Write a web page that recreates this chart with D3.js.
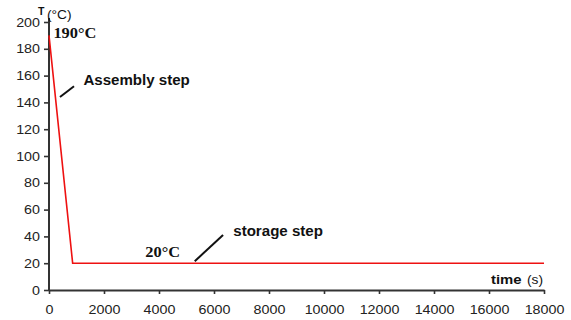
<!DOCTYPE html>
<html>
<head>
<meta charset="utf-8">
<script src="https://cdn.jsdelivr.net/npm/d3@7"></script>
<style>
  body { margin: 0; background: #fff; }
  svg { display: block; }
</style>
</head>
<body>
<svg id="chart" width="571" height="320"></svg>
<script>
"use strict";

//Temperature profile (time in s, temperature in °C)
var times = [0, 860, 18000];
var temps = [190, 20, 20];

//Tick values for both axes
var xTicks = [0, 2000, 4000, 6000, 8000, 10000, 12000, 14000, 16000, 18000];
var yTicks = [0, 20, 40, 60, 80, 100, 120, 140, 160, 180, 200];

//Labels placed on the curve, in data units
var labelText = ["190°C", "20°C", "Assembly step", "storage step"];
var labelX = [160, 3500, 1250, 6700];
var labelY = [188, 24.5, 153, 40.3];
//Leader lines for the step labels
var leaderX1 = [400, 5300];
var leaderY1 = [144, 21.5];
var leaderX2 = [910, 6330];
var leaderY2 = [152, 41];

var svg = d3.select("#chart"),
    margin = {top: 22, right: 27, bottom: 30, left: 49},
    width = +svg.attr("width") - margin.left - margin.right,
    height = +svg.attr("height") - margin.top - margin.bottom,
    g = svg.append("g").attr("transform", "translate(" + margin.left + "," + margin.top + ")");

var x = d3.scaleLinear().domain([0, 18000]).range([0, width]);
var y = d3.scaleLinear().domain([0, 200]).range([height, 0]);

var axisColor = "#333";
var sans = "'Liberation Sans', Arial, sans-serif";
var serif = "'Liberation Serif', 'Times New Roman', serif";
//The original picture is a bit wider than tall, so text is stretched
var stretch = 1.1;

function widen(sel, k) {
  sel.each(function() {
    var w = this.getComputedTextLength();
    d3.select(this).attr("textLength", w * k).attr("lengthAdjust", "spacingAndGlyphs");
  });
}

//x axis
var gx = g.append("g")
    .attr("transform", "translate(0," + height + ")")
    .call(d3.axisBottom(x).tickValues(xTicks).tickFormat(d3.format("d"))
      .tickSize(4).tickSizeOuter(0).tickPadding(11));

//y axis
var gy = g.append("g")
    .call(d3.axisLeft(y).tickValues(yTicks).tickFormat(d3.format("d"))
      .tickSize(5).tickSizeOuter(0).tickPadding(4));

[gx, gy].forEach(function(ax) {
  ax.select(".domain").attr("stroke", axisColor).attr("stroke-width", 2);
  ax.selectAll(".tick line").attr("stroke", axisColor).attr("stroke-width", 1.6);
  ax.selectAll(".tick text")
    .attr("fill", "#222")
    .attr("font-family", sans)
    .attr("font-size", "13px")
    .call(widen, stretch);
});
gy.select(".domain").attr("d", "M0," + height + "V-4");

//Temperature curve
var line = d3.line()
    .x(function(d, i) { return x(times[i]); })
    .y(function(d, i) { return y(temps[i]); });

g.append("path")
    .datum(times)
    .attr("d", line)
    .attr("fill", "none")
    .attr("stroke", "#ee1111")
    .attr("stroke-width", 1.6);

//Leader lines
g.selectAll(".leader")
    .data(leaderX1)
    .enter().append("line")
      .attr("class", "leader")
      .attr("x1", function(d, i) { return x(leaderX1[i]); })
      .attr("y1", function(d, i) { return y(leaderY1[i]); })
      .attr("x2", function(d, i) { return x(leaderX2[i]); })
      .attr("y2", function(d, i) { return y(leaderY2[i]); })
      .attr("stroke", "#111")
      .attr("stroke-width", 2);

//Labels: the temperatures in a serif face, the step names in sans
g.selectAll(".lbl")
    .data(labelText)
    .enter().append("text")
      .attr("class", "lbl")
      .attr("x", function(d, i) { return x(labelX[i]); })
      .attr("y", function(d, i) { return y(labelY[i]); })
      .text(function(d) { return d; })
      .attr("font-family", function(d, i) { return i < 2 ? serif : sans; })
      .attr("font-size", "14.5px")
      .attr("font-weight", "bold")
      .attr("fill", "#111")
      .each(function(d, i) { d3.select(this).call(widen, i < 2 ? 1.13 : 1.04); });

//Axis captions
svg.append("text")
    .attr("x", 38).attr("y", 15)
    .text("T")
    .attr("font-family", sans).attr("font-size", "10.5px").attr("font-weight", "bold")
    .attr("fill", "#111");
svg.append("text")
    .attr("x", 47).attr("y", 19)
    .text("(°C)")
    .attr("font-family", sans).attr("font-size", "12.5px")
    .attr("fill", "#111")
    .call(widen, stretch);

svg.append("text")
    .attr("x", 491).attr("y", 284)
    .text("time")
    .attr("font-family", sans).attr("font-size", "13.5px").attr("font-weight", "bold")
    .attr("fill", "#111")
    .call(widen, stretch);
svg.append("text")
    .attr("x", 527).attr("y", 284)
    .text("(s)")
    .attr("font-family", sans).attr("font-size", "12.5px")
    .attr("fill", "#111")
    .call(widen, stretch);
</script>
</body>
</html>
